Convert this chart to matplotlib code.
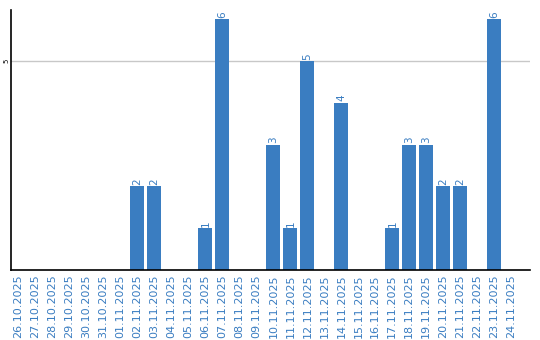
import matplotlib
matplotlib.use("Agg")
import matplotlib.pyplot as plt
import numpy as np

dates = ["26.10.2025", "27.10.2025", "28.10.2025", "29.10.2025", "30.10.2025",
         "31.10.2025", "01.11.2025", "02.11.2025", "03.11.2025", "04.11.2025",
         "05.11.2025", "06.11.2025", "07.11.2025", "08.11.2025", "09.11.2025",
         "10.11.2025", "11.11.2025", "12.11.2025", "13.11.2025", "14.11.2025",
         "15.11.2025", "16.11.2025", "17.11.2025", "18.11.2025", "19.11.2025",
         "20.11.2025", "21.11.2025", "22.11.2025", "23.11.2025", "24.11.2025"]
counts = [0, 0, 0, 0, 0, 0, 0, 2, 2, 0,
          0, 1, 6, 0, 0, 3, 1, 5, 0, 4,
          0, 0, 1, 3, 3, 2, 2, 0, 6, 0]

blue = "#3a7dc1"

fig = plt.figure(figsize=(5.4, 3.4), dpi=100)
ax = fig.add_axes([0.0204, 0.206, 0.961, 0.765])

x = np.arange(len(dates))
ax.bar(x, counts, width=0.82, color=blue, zorder=2)

# value labels, rotated like the original
for xi, v in zip(x, counts):
    if v > 0:
        ax.text(xi, v + 0.04, str(v), rotation=90, ha="center", va="bottom",
                color=blue, fontsize=7.5)

ax.set_xlim(-0.44, 30.1)
ax.set_ylim(0, 6.23)
ax.set_yticks([5])
ax.set_yticklabels(["5"], rotation=90, va="center", fontsize=5)
ax.yaxis.grid(True, color="#c8c8c8", linewidth=1, zorder=0)
ax.set_xticks(x)
ax.set_xticklabels(dates, rotation=90, color=blue, fontsize=8)
ax.tick_params(axis="x", length=0, pad=3)
ax.tick_params(axis="y", length=0, pad=1)

for side in ["top", "right"]:
    ax.spines[side].set_visible(False)
for side in ["left", "bottom"]:
    ax.spines[side].set_color("black")
    ax.spines[side].set_linewidth(1.2)

fig.savefig("out.png", dpi=100)
